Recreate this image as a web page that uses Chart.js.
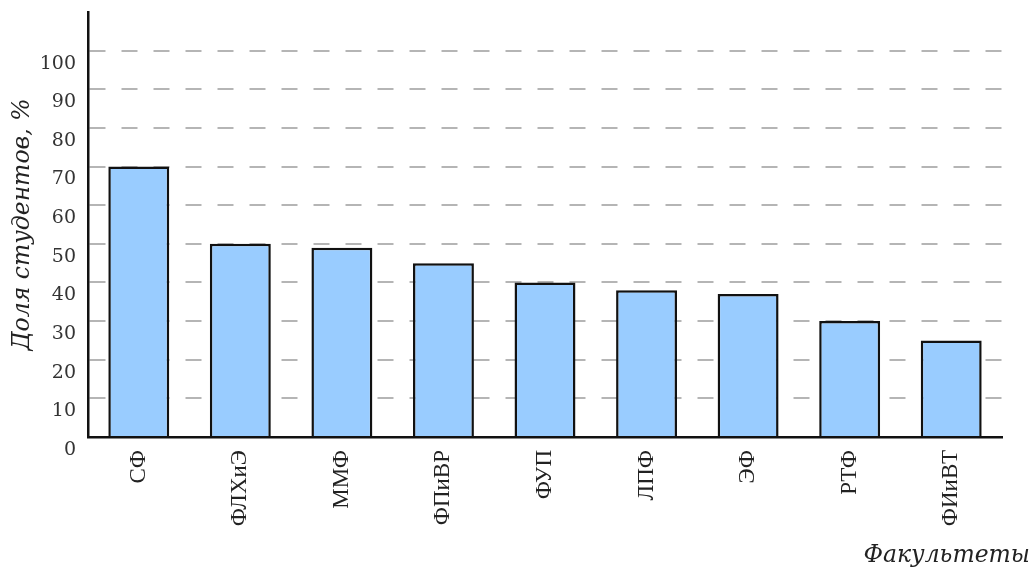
<!DOCTYPE html>
<html>
<head>
<meta charset="utf-8">
<script src="https://cdn.jsdelivr.net/npm/chart.js@4/dist/chart.umd.min.js"></script>
<style>
  html, body { margin: 0; padding: 0; background: #fff; }
  canvas { display: block; }
</style>
</head>
<body>
<canvas id="myChart" width="1035" height="574"></canvas>
<script>
// Data
const faculties = ['СФ', 'ФЛХиЭ', 'ММФ', 'ФПиВР', 'ФУП', 'ЛПФ', 'ЭФ', 'РТФ', 'ФИиВТ'];
const shares = [70, 50, 49, 45, 40, 38, 37, 30, 25];
const yTicks = [0, 10, 20, 30, 40, 50, 60, 70, 80, 90, 100];
const yTitle = 'Доля студентов, %';
const xTitle = 'Факультеты';

const serif = '"DejaVu Serif", serif';

// x axis title sits at the right edge of the page, past the plot
const xTitlePlugin = {
  id: 'xTitle',
  afterDraw(chart) {
    const ctx = chart.ctx;
    ctx.save();
    ctx.font = 'italic 23.5px ' + serif;
    ctx.fillStyle = '#222';
    ctx.textAlign = 'right';
    ctx.textBaseline = 'middle';
    ctx.fillText(xTitle, 1030, 556);
    ctx.restore();
  }
};

const ctx = document.getElementById('myChart').getContext('2d');
new Chart(ctx, {
  type: 'bar',
  data: {
    labels: faculties,
    datasets: [{
      data: shares,
      backgroundColor: '#99ccff',
      borderColor: '#111',
      borderWidth: 2.5,
      categoryPercentage: 1,
      barPercentage: 0.6
    }]
  },
  options: {
    responsive: false,
    animation: false,
    layout: { padding: { top: 12, right: 33, bottom: 0, left: 0 } },
    plugins: {
      legend: { display: false },
      tooltip: { enabled: false }
    },
    scales: {
      x: {
        grid: { display: false, drawTicks: false },
        border: { color: '#111', width: 2.5 },
        ticks: {
          minRotation: 90,
          maxRotation: 90,
          padding: 13,
          color: '#222',
          font: { family: '"Liberation Serif", serif', size: 23 }
        },
        afterFit(scale) {
          scale.height = 137;
          scale.paddingLeft = 0;
          scale.paddingRight = 0;
        }
      },
      y: {
        min: 0,
        max: 110,
        grid: { color: '#b5b5b5', lineWidth: 2, drawTicks: false },
        border: { color: '#111', width: 2.5, dash: [16, 16] },
        ticks: {
          padding: 12,
          labelOffset: 13,
          color: '#333',
          font: { family: serif, size: 19 }
        },
        afterBuildTicks(scale) {
          scale.ticks = yTicks.map(v => ({ value: v }));
        },
        title: {
          display: true,
          text: yTitle,
          color: '#222',
          padding: { top: 9, bottom: 0 },
          font: { family: serif, size: 23.5, style: 'italic' }
        },
        afterFit(scale) {
          scale.width = 88;
          scale.paddingTop = 0;
          scale.paddingBottom = 0;
        }
      }
    }
  },
  plugins: [xTitlePlugin]
});
</script>
</body>
</html>
